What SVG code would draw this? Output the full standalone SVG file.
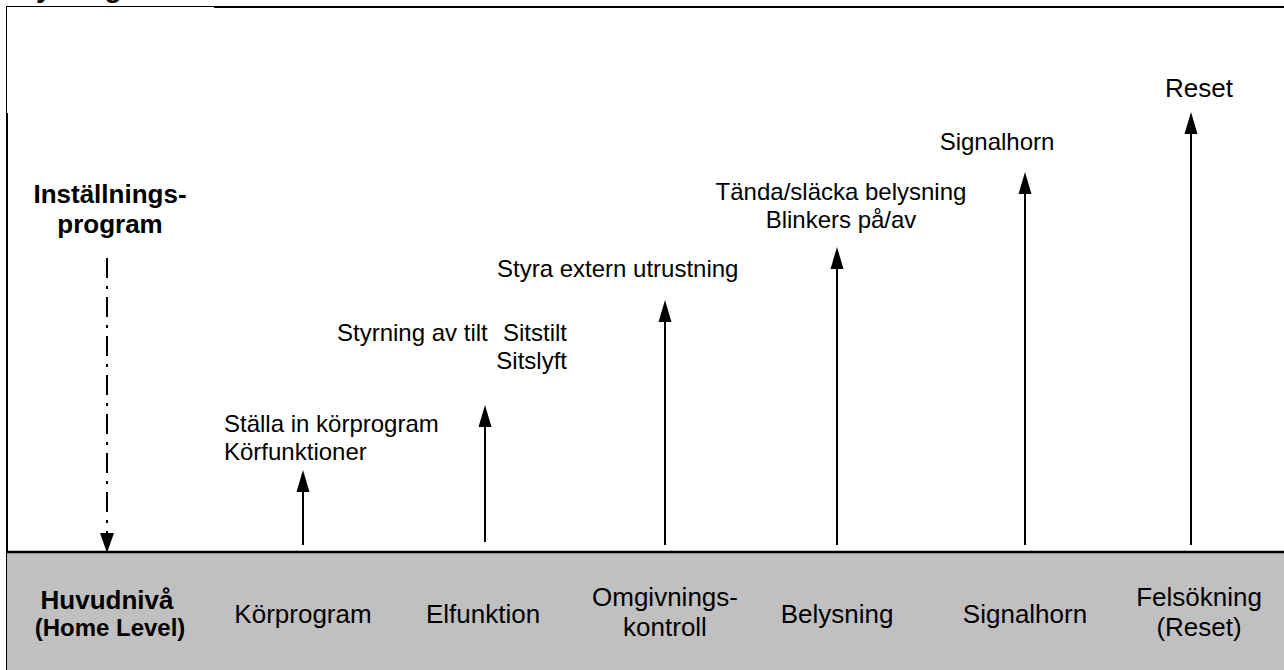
<svg xmlns="http://www.w3.org/2000/svg" width="1284" height="670" viewBox="0 0 1284 670">
<style>
.t{font-family:"Liberation Sans",Arial,sans-serif;font-size:24px;fill:#000}
.bn{font-size:26px}
.b{font-weight:bold}
.m{text-anchor:middle}
.e{text-anchor:end}
.ln{stroke:#000;stroke-width:2;fill:none}
.hd{fill:#000}
</style>
<rect x="0" y="0" width="1284" height="670" fill="#fff"/>
<g id="frame">
<text class="t b" x="8" y="-3" style="font-size:28px">Styrning</text>
<line x1="6" y1="6.5" x2="214" y2="6.5" stroke="#000" stroke-width="1"/>
<line x1="214" y1="7" x2="1284" y2="7" stroke="#000" stroke-width="2"/>
<line x1="6.5" y1="6" x2="6.5" y2="114" stroke="#000" stroke-width="1"/>
<line x1="7" y1="113" x2="7" y2="670" stroke="#000" stroke-width="2"/>
</g>
<g id="band">
<rect x="7" y="552" width="1277" height="118" fill="#c0c0c0"/>
<line x1="6" y1="552" x2="1284" y2="552" stroke="#000" stroke-width="2.5"/>
</g>
<g id="connectors">
<line x1="107" y1="258" x2="107" y2="533" stroke="#000" stroke-width="2" stroke-dasharray="20,8,3,8"/>
<path class="hd" d="M100,533 L114,533 L107,553 Z"/>
<line class="ln" x1="303" y1="545" x2="303" y2="490"/>
<path class="hd" d="M303,470 L309.5,492 L296.5,492 Z"/>
<line class="ln" x1="485" y1="542" x2="485" y2="425"/>
<path class="hd" d="M485,405 L491.5,427 L478.5,427 Z"/>
<line class="ln" x1="665" y1="545" x2="665" y2="320"/>
<path class="hd" d="M665,300 L671.5,322 L658.5,322 Z"/>
<line class="ln" x1="837" y1="545" x2="837" y2="267"/>
<path class="hd" d="M837,247 L843.5,269 L830.5,269 Z"/>
<line class="ln" x1="1025" y1="545" x2="1025" y2="192"/>
<path class="hd" d="M1025,172 L1031.5,194 L1018.5,194 Z"/>
<line class="ln" x1="1191" y1="545" x2="1191" y2="132"/>
<path class="hd" d="M1191,112 L1197.5,134 L1184.5,134 Z"/>
</g>
<g id="installningsprogram">
<text class="t b m bn" x="110" y="203">Inställnings-</text>
<text class="t b m bn" x="110" y="233">program</text>
</g>
<g id="korprogram-label">
<text class="t" x="224" y="432">Ställa in körprogram</text>
<text class="t" x="224" y="460">Körfunktioner</text>
</g>
<g id="elfunktion-label">
<text class="t" x="337" y="341">Styrning av tilt</text>
<text class="t e" x="567" y="341">Sitstilt</text>
<text class="t e" x="567" y="369">Sitslyft</text>
</g>
<g id="omgivning-label">
<text class="t" x="497" y="277">Styra extern utrustning</text>
</g>
<g id="belysning-label">
<text class="t m" x="841" y="200">Tända/släcka belysning</text>
<text class="t m" x="841" y="228">Blinkers på/av</text>
</g>
<g id="signalhorn-label">
<text class="t m" x="997" y="150">Signalhorn</text>
</g>
<g id="reset-label">
<text class="t m bn" x="1199" y="97">Reset</text>
</g>
<g id="huvudniva">
<text class="t b m bn" x="107" y="609">Huvudnivå</text>
<text class="t b m" x="110" y="636">(Home Level)</text>
</g>
<g id="korprogram"><text class="t m bn" x="303" y="623">Körprogram</text></g>
<g id="elfunktion"><text class="t m bn" x="483" y="623">Elfunktion</text></g>
<g id="omgivningskontroll">
<text class="t m bn" x="665" y="606">Omgivnings-</text>
<text class="t m bn" x="665" y="636">kontroll</text>
</g>
<g id="belysning"><text class="t m bn" x="837" y="623">Belysning</text></g>
<g id="signalhorn"><text class="t m bn" x="1025" y="623">Signalhorn</text></g>
<g id="felsokning">
<text class="t m bn" x="1199" y="606">Felsökning</text>
<text class="t m bn" x="1199" y="636">(Reset)</text>
</g>
</svg>
